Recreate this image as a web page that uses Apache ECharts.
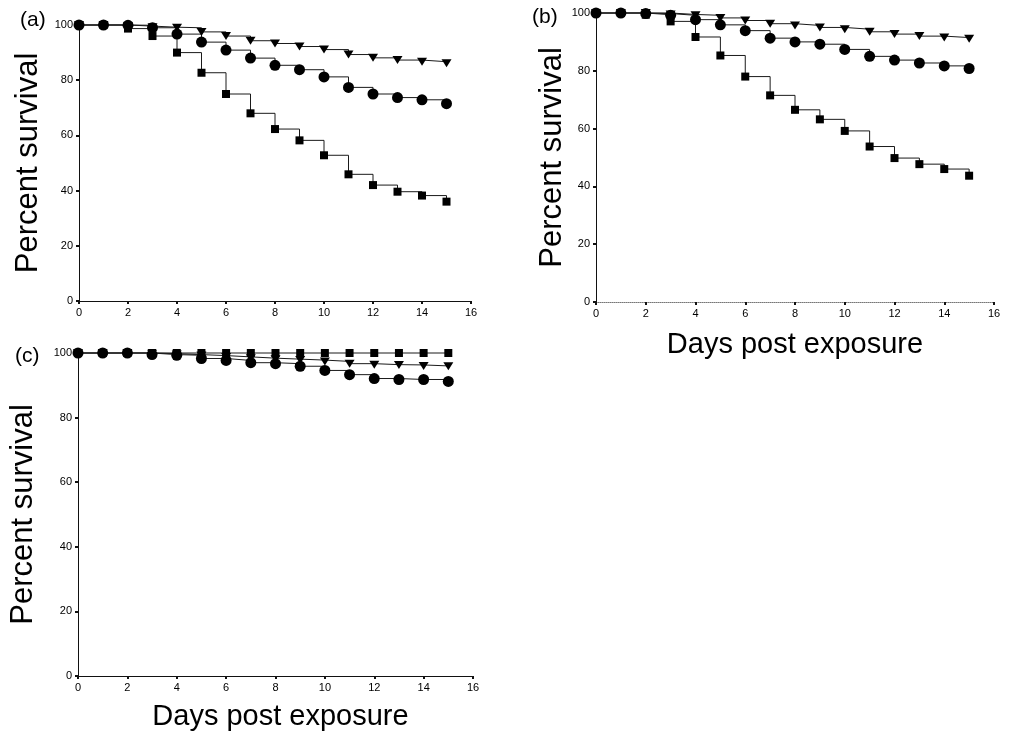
<!DOCTYPE html>
<html>
<head>
<meta charset="utf-8">
<script src="https://cdn.jsdelivr.net/npm/echarts@6/dist/echarts.min.js"></script>
<style>
  html, body { margin: 0; padding: 0; background: #fff; }
  #chart { width: 1015px; height: 736px; }
</style>
</head>
<body>
<div id="chart"></div>
<script>
// days after exposure
const days = [0, 1, 2, 3, 4, 5, 6, 7, 8, 9, 10, 11, 12, 13, 14, 15];
const xTicks = [0, 2, 4, 6, 8, 10, 12, 14, 16];
const yTicks = [0, 20, 40, 60, 80, 100];

// panel (a)
const aTriangle = [100, 100, 99.6, 99.2, 99, 97.5, 96, 94.3, 93.3, 92.2, 91.1, 89.3, 88.1, 87.3, 86.7, 86.1];
const aCircle = [100, 100, 99.9, 99, 96.7, 93.8, 90.9, 88, 85.4, 83.8, 81.2, 77.4, 75, 73.7, 72.9, 71.5];
const aSquare = [100, 100, 98.7, 96, 90, 82.7, 75, 68, 62.3, 58.2, 52.8, 45.9, 42, 39.6, 38.2, 36];

// panel (b)
const bTriangle = [100, 100, 100, 99.5, 99.2, 98.3, 97.4, 96.3, 95.7, 95, 94.4, 93.5, 92.7, 92, 91.5, 91.1];
const bCircle = [100, 100, 99.8, 99.2, 97.7, 95.9, 93.9, 91.3, 90, 89.2, 87.4, 85, 83.7, 82.7, 81.7, 80.8];
const bSquare = [100, 100, 99.4, 97.1, 91.7, 85.3, 78, 71.5, 66.5, 63.2, 59.2, 53.8, 49.8, 47.7, 46, 43.7];

// panel (c)
const cTriangle = [100, 100, 100, 99.8, 99.5, 99.2, 98.8, 98.4, 98.1, 97.8, 97.4, 96.7, 96.4, 96.3, 96, 95.9];
const cCircle = [100, 100, 100, 99.5, 99.3, 98.3, 97.7, 97, 96.7, 95.9, 94.6, 93.3, 92.1, 91.8, 91.8, 91.2];
const cSquare = [100, 100, 100, 100, 100, 100, 100, 100, 100, 100, 100, 100, 100, 100, 100, 100];

const FONT = "'Liberation Sans', Arial, Helvetica, sans-serif";

function pairs(vals) {
  return days.map(function (d, i) { return [d, vals[i]]; });
}

function xAxisFor(idx, name, dotted, gap, shift) {
  return {
    gridIndex: idx,
    type: "value",
    min: xTicks[0],
    max: xTicks[xTicks.length - 1],
    interval: 2,
    name: name,
    nameLocation: "middle",
    nameGap: gap,
    nameTextStyle: { fontFamily: FONT, fontSize: 29, color: "#000", padding: [0, 0, 0, shift] },
    axisLine: { lineStyle: { color: dotted ? "#777" : "#111", width: 1, type: dotted ? "dotted" : "solid" } },
    axisTick: { length: 3, lineStyle: { color: "#111", width: 2 } },
    axisLabel: { fontFamily: FONT, fontSize: 11, color: "#000", margin: 6 },
    splitLine: { show: false }
  };
}

function yAxisFor(idx, gap) {
  return {
    gridIndex: idx,
    type: "value",
    min: yTicks[0],
    max: yTicks[yTicks.length - 1],
    interval: 20,
    name: "Percent survival",
    nameLocation: "middle",
    nameRotate: 90,
    nameGap: gap,
    nameTextStyle: { fontFamily: FONT, fontSize: 31, color: "#000" },
    axisLine: { show: true, lineStyle: { color: "#111", width: 1 } },
    axisTick: { show: true, length: 3, lineStyle: { color: "#111", width: 2 } },
    axisLabel: { fontFamily: FONT, fontSize: 11, color: "#000", margin: 6 },
    splitLine: { show: false }
  };
}

function stepSeries(idx, vals, shape) {
  let s = {
    type: "line",
    xAxisIndex: idx,
    yAxisIndex: idx,
    step: "end",
    data: pairs(vals),
    clip: false,
    animation: false,
    lineStyle: { color: "#1a1a1a", width: 1 },
    itemStyle: { color: "#000" },
    symbol: "circle",
    symbolSize: 11
  };
  if (shape === "triangle") {
    s.symbol = "triangle";
    s.symbolRotate = 180;
    s.symbolSize = [10, 8];
  } else if (shape === "square") {
    s.symbol = "rect";
    s.symbolSize = 8;
  }
  return s;
}

let myChart = echarts.init(document.getElementById("chart"));
let option = {
  backgroundColor: "#fff",
  animation: false,
  grid: [
    { left: 79, top: 25, width: 392, height: 276 },
    { left: 596, top: 13, width: 398, height: 289 },
    { left: 78, top: 353, width: 395, height: 323 }
  ],
  xAxis: [
    xAxisFor(0, "", false, 20, 0),
    xAxisFor(1, "Days post exposure", true, 28, 0),
    xAxisFor(2, "Days post exposure", false, 26, 10)
  ],
  yAxis: [yAxisFor(0, 35), yAxisFor(1, 26), yAxisFor(2, 39)],
  graphic: [
    { type: "text", left: 20, top: 10, style: { text: "(a)", font: "21px " + FONT, fill: "#000" } },
    { type: "text", left: 532, top: 7, style: { text: "(b)", font: "21px " + FONT, fill: "#000" } },
    { type: "text", left: 15, top: 346, style: { text: "(c)", font: "21px " + FONT, fill: "#000" } }
  ],
  series: [
    stepSeries(0, aTriangle, "triangle"),
    stepSeries(0, aCircle, "circle"),
    stepSeries(0, aSquare, "square"),
    stepSeries(1, bTriangle, "triangle"),
    stepSeries(1, bCircle, "circle"),
    stepSeries(1, bSquare, "square"),
    stepSeries(2, cSquare, "square"),
    stepSeries(2, cTriangle, "triangle"),
    stepSeries(2, cCircle, "circle")
  ]
};
myChart.setOption(option);
</script>
</body>
</html>
